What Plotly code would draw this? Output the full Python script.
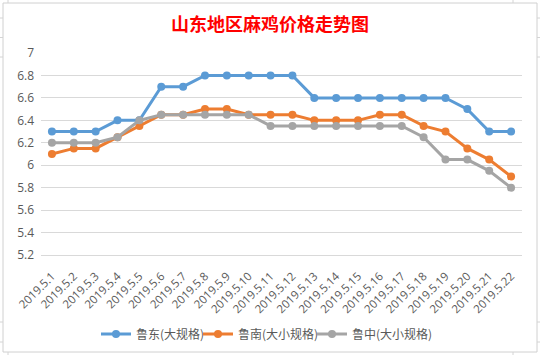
import plotly.graph_objects as go

dates = ["2019.5.1", "2019.5.2", "2019.5.3", "2019.5.4", "2019.5.5", "2019.5.6", "2019.5.7",
         "2019.5.8", "2019.5.9", "2019.5.10", "2019.5.11", "2019.5.12", "2019.5.13", "2019.5.14",
         "2019.5.15", "2019.5.16", "2019.5.17", "2019.5.18", "2019.5.19", "2019.5.20",
         "2019.5.21", "2019.5.22"]
ludong = [6.3, 6.3, 6.3, 6.4, 6.4, 6.7, 6.7, 6.8, 6.8, 6.8, 6.8, 6.8, 6.6, 6.6, 6.6, 6.6,
          6.6, 6.6, 6.6, 6.5, 6.3, 6.3]
lunan = [6.1, 6.15, 6.15, 6.25, 6.35, 6.45, 6.45, 6.5, 6.5, 6.45, 6.45, 6.45, 6.4, 6.4, 6.4,
         6.45, 6.45, 6.35, 6.3, 6.15, 6.05, 5.9]
luzhong = [6.2, 6.2, 6.2, 6.25, 6.4, 6.45, 6.45, 6.45, 6.45, 6.45, 6.35, 6.35, 6.35, 6.35,
           6.35, 6.35, 6.35, 6.25, 6.05, 6.05, 5.95, 5.8]
series_names = ["鲁东(大规格)", "鲁南(大小规格)", "鲁中(大小规格)"]
colors = ["#5b9bd5", "#ed7d31", "#a5a5a5"]
y_ticks = [5.2, 5.4, 5.6, 5.8, 6, 6.2, 6.4, 6.6, 6.8, 7]

W, H = 540, 355
L, R, T, B = 41, 18, 53, 100
PW, PH = W - L - R, H - T - B


def px(x):
    return (x - L) / PW


def py(y):
    return (H - B - y) / PH


legend_ids = ["legend", "legend2", "legend3"]
legend_left = [96, 198, 312]

fig = go.Figure()
for name, vals, c, lg in zip(series_names, [ludong, lunan, luzhong], colors, legend_ids):
    fig.add_trace(go.Scatter(
        x=dates, y=vals, name=name, mode="lines+markers",
        line=dict(color=c, width=3),
        marker=dict(color=c, size=8),
        hoverinfo="skip", legend=lg,
    ))

shapes = []
grid_c = "#d4d4d4"
# chart frame
shapes.append(dict(type="rect", xref="paper", yref="paper",
                   x0=px(3), x1=px(537), y0=py(352), y1=py(3),
                   line=dict(color="#d0d0d0", width=1), layer="below"))
# spreadsheet grid stubs outside frame
for xc in [8, 513]:
    shapes.append(dict(type="line", xref="paper", yref="paper", x0=px(xc), x1=px(xc),
                       y0=py(0), y1=py(3), line=dict(color=grid_c, width=1)))
    shapes.append(dict(type="line", xref="paper", yref="paper", x0=px(xc), x1=px(xc),
                       y0=py(352), y1=py(355), line=dict(color=grid_c, width=1)))
for yr in [18, 37.5, 57, 322, 342]:
    shapes.append(dict(type="line", xref="paper", yref="paper", x0=px(0), x1=px(3),
                       y0=py(yr), y1=py(yr), line=dict(color=grid_c, width=1)))
    shapes.append(dict(type="line", xref="paper", yref="paper", x0=px(537), x1=px(540),
                       y0=py(yr), y1=py(yr), line=dict(color=grid_c, width=1)))

legend_common = dict(orientation="h", yanchor="middle", xanchor="left", y=py(334),
                     font=dict(family="Noto Sans CJK SC", size=12, color="#595959"),
                     itemwidth=30, bgcolor="rgba(0,0,0,0)", borderwidth=0)

fig.update_layout(
    width=W, height=H,
    margin=dict(l=L, r=R, t=T, b=B, autoexpand=False),
    paper_bgcolor="white", plot_bgcolor="white",
    title=dict(text="<b>山东地区麻鸡价格走势图</b>", x=0.5, xanchor="center",
               y=1 - 25 / H, yanchor="middle",
               font=dict(family="Noto Sans CJK SC", size=18, color="#ff0000")),
    xaxis=dict(
        type="category", tickangle=-45, showgrid=False, ticks="",
        showline=True, linecolor="#d9d9d9", linewidth=1,
        tickfont=dict(family="Open Sans", size=11.5, color="#595959"),
        range=[-0.5, len(dates) - 0.5], automargin=False,
        ticklabelstandoff=9,
    ),
    yaxis=dict(
        range=[5.2, 7], tickvals=y_ticks, ticktext=[f"{v:g}" for v in y_ticks],
        showgrid=True, gridcolor="#d9d9d9", gridwidth=1, zeroline=False, showline=False,
        ticks="", tickfont=dict(family="Open Sans", size=12, color="#595959"),
        ticklabelstandoff=6, automargin=False,
    ),
    legend=dict(x=px(legend_left[0]), **legend_common),
    legend2=dict(x=px(legend_left[1]), **legend_common),
    legend3=dict(x=px(legend_left[2]), **legend_common),
    shapes=shapes,
    showlegend=True,
)
fig.write_html("out.html", config={"displayModeBar": False},
               post_script="document.body.style.margin='0';")
